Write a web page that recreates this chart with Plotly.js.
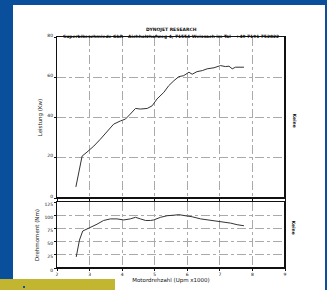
<!DOCTYPE html>
<html>
<head>
<meta charset="utf-8">
<script src="https://cdn.plot.ly/plotly-3.0.1.min.js"></script>
<style>html,body{margin:0;padding:0;background:#0a4f9c;}#chart{width:327px;height:290px;}</style>
</head>
<body>
<div id="chart"></div>
<script>
// Engine speed (rpm x1000) and measured values read from the dyno sheet
const rpmPower = [2.58, 2.69, 2.77, 2.92, 3.13, 3.33, 3.54, 3.74, 3.95, 4.10, 4.25, 4.41, 4.56, 4.77, 4.92, 5.07, 5.28, 5.43, 5.59, 5.74, 5.89, 6.05, 6.15, 6.30, 6.46, 6.61, 6.82, 7.02, 7.17, 7.28, 7.38, 7.48, 7.74];
const powerKw = [5.5, 15, 20.8, 22.8, 25.8, 29.2, 33.3, 36.7, 38.3, 39.2, 41.7, 44.5, 44.2, 44.5, 45.8, 49.2, 52.5, 55.8, 58.3, 60.3, 60.8, 62.5, 61.5, 62.8, 63.3, 64.2, 64.7, 65.8, 65.3, 65.5, 64.2, 65, 65];
const rpmTorque = [2.59, 2.69, 2.79, 2.97, 3.23, 3.43, 3.64, 3.84, 4.05, 4.25, 4.41, 4.56, 4.72, 4.87, 4.97, 5.18, 5.38, 5.59, 5.74, 5.94, 6.15, 6.41, 6.66, 7.02, 7.33, 7.53, 7.74];
const torqueNm = [21, 53, 70, 75, 83, 90, 93, 93, 91, 93, 96, 93, 90, 90, 91, 96, 99, 100, 101, 99, 97, 93, 91, 88, 85, 82, 80];
const xTicks = [2, 3, 4, 5, 6, 7, 8, 9];
const powerTicks = [0, 20, 40, 60, 80];
const torqueTicks = [0, 25, 50, 75, 100, 125];

const W = 327, H = 290;
const px = v => v / W, py = v => 1 - v / H;
const tickFont = {family: 'DejaVu Sans', size: 4.5, color: '#111'};
const lab = {family: 'DejaVu Sans', size: 5.5, color: '#111'};

const commonAxis = {
  showline: true, linecolor: '#111', linewidth: 1, mirror: true,
  showgrid: true, gridcolor: '#aaa', griddash: 'dashdot', gridwidth: 1,
  zeroline: false, tickfont: tickFont, ticks: 'outside', ticklen: 2, tickcolor: '#111'
};

const traces = [
  {x: rpmPower, y: powerKw, xaxis: 'x', yaxis: 'y', mode: 'lines', line: {color: '#333', width: 1}, hoverinfo: 'skip'},
  {x: rpmTorque, y: torqueNm, xaxis: 'x2', yaxis: 'y2', mode: 'lines', line: {color: '#333', width: 1}, hoverinfo: 'skip'}
];

const layout = {
  width: W, height: H,
  margin: {l: 0, r: 0, t: 0, b: 0},
  paper_bgcolor: '#0a4f9c',
  plot_bgcolor: '#ffffff',
  showlegend: false,
  xaxis: Object.assign({}, commonAxis, {domain: [px(57), px(285)], range: [2, 9], tickvals: xTicks, showticklabels: false, anchor: 'y'}),
  yaxis: Object.assign({}, commonAxis, {domain: [py(198), py(37)], range: [0, 80], tickvals: powerTicks, anchor: 'x', ticklabelshift: -2,
    title: {text: 'Leistung (Kw)', font: lab, standoff: 4}}),
  xaxis2: Object.assign({}, commonAxis, {domain: [px(57), px(285)], range: [2, 9], tickvals: xTicks, anchor: 'y2',
    title: {text: 'Motordrehzahl (Upm x1000)', font: lab, standoff: 1}}),
  yaxis2: Object.assign({}, commonAxis, {domain: [py(268), py(202)], range: [0, 125], tickvals: torqueTicks, anchor: 'x2', ticklabelshift: 2,
    title: {text: 'Drehmoment (Nm)', font: lab, standoff: 4}}),
  shapes: [
    {type: 'rect', xref: 'paper', yref: 'paper', x0: px(13), x1: px(325), y0: 0, y1: py(5), fillcolor: '#ffffff', line: {width: 0}, layer: 'below'},
    {type: 'rect', xref: 'paper', yref: 'paper', x0: 0, x1: px(115), y0: 0, y1: py(279), fillcolor: '#c2b52f', line: {width: 0}, layer: 'below'},
    {type: 'rect', xref: 'paper', yref: 'paper', x0: 0, x1: px(13), y0: py(279), y1: py(270), fillcolor: '#0a4f9c', line: {width: 0}, layer: 'below'},
    {type: 'rect', xref: 'paper', yref: 'paper', x0: px(23), x1: px(25), y0: py(288), y1: py(286), fillcolor: '#1a4fa0', line: {width: 0}, layer: 'below'},
    {type: 'line', xref: 'paper', yref: 'paper', x0: px(285), x1: px(285), y0: py(198), y1: py(37), line: {color: '#111', width: 2}},
    {type: 'line', xref: 'paper', yref: 'paper', x0: px(285), x1: px(285), y0: py(268), y1: py(202), line: {color: '#111', width: 2}},
    {type: 'line', xref: 'paper', yref: 'paper', x0: px(57), x1: px(285), y0: py(198), y1: py(198), line: {color: '#111', width: 2}},
    {type: 'line', xref: 'paper', yref: 'paper', x0: px(57), x1: px(285), y0: py(268), y1: py(268), line: {color: '#111', width: 2}}
  ],
  annotations: [
    {xref: 'paper', yref: 'paper', x: px(171), y: py(25), text: '<b>DYNOJET RESEARCH</b>', showarrow: false, font: {family: 'DejaVu Sans', size: 4.5, color: '#111'}},
    {xref: 'paper', yref: 'paper', x: px(171), y: py(31.5), text: '<b>Superbikeschmiede GbR - Aichholzhofweg 4, 71554 Weissach im Tal - +49 7191 752822</b>', showarrow: false, font: {family: 'DejaVu Sans', size: 4.4, color: '#111'}},
    {xref: 'paper', yref: 'paper', x: px(298), y: py(120), text: '<b>Keine</b>', textangle: 90, showarrow: false, font: {family: 'DejaVu Sans', size: 4.5, color: '#111'}},
    {xref: 'paper', yref: 'paper', x: px(298), y: py(236), text: '<b>Keine</b>', textangle: 90, showarrow: false, font: {family: 'DejaVu Sans', size: 4.5, color: '#111'}}
  ]
};

Plotly.newPlot('chart', traces, layout, {displayModeBar: false, staticPlot: true});
</script>
</body>
</html>
